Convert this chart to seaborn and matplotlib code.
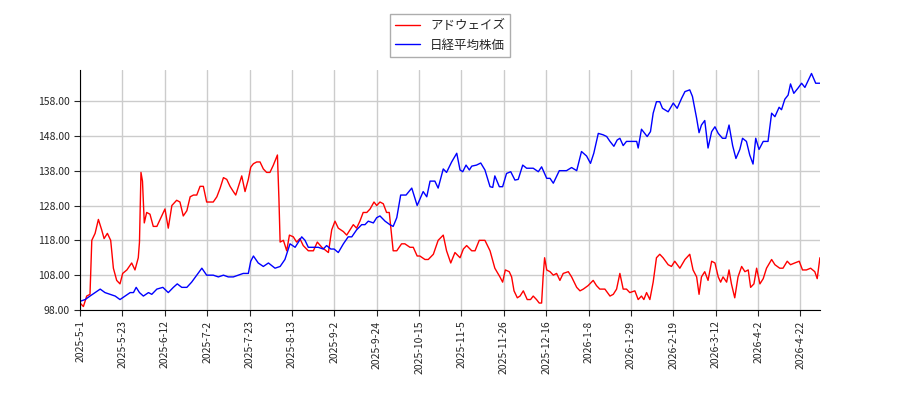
import matplotlib
matplotlib.use("Agg")
import matplotlib.pyplot as plt
import seaborn as sns
import numpy as np

# trading-day offsets and closing values
red_day = [0.0, 1.1, 2.2, 3.3, 3.9, 5.0, 6.1, 7.2, 8.0, 9.1, 10.2, 11.1, 12.2, 13.3, 14.2, 15.6, 17.2, 18.3, 19.4, 19.8,
           20.3, 20.8, 21.4, 22.2, 23.3, 24.4, 25.6, 27.2, 28.3, 29.4, 30.6, 32.2, 33.3, 34.4, 35.6, 36.7, 37.8, 38.9,
           40.0, 41.1, 42.2, 43.3, 44.4, 45.6, 46.7, 47.8, 48.9, 50.0, 51.1, 51.9, 52.8, 53.9, 55.0, 56.1, 56.9, 57.8,
           58.9, 60.0, 61.1, 62.2, 63.3, 64.4, 65.8, 66.3, 66.7, 67.8, 68.9, 69.8, 71.1, 72.2, 73.3, 74.4, 76.1, 77.8,
           79.1, 80.6, 82.8, 83.9, 85.0, 86.1, 87.8, 88.9, 90.0, 91.1, 92.2, 93.3, 94.4, 95.6, 96.7, 98.0, 98.9, 100.0,
           101.1, 102.2, 103.1, 104.4, 105.6, 107.2, 108.3, 110.0, 111.1, 112.4, 113.3, 115.0, 116.1, 117.8, 119.4,
           121.1, 122.2, 123.6, 125.0, 126.7, 127.8, 128.9, 130.6, 131.7, 133.1, 135.0, 136.7, 138.3, 140.0, 140.9,
           141.8, 143.1, 143.9, 144.7, 145.8, 146.7, 147.8, 149.1, 150.2, 151.1, 152.2, 153.1, 153.9, 154.4, 154.9,
           155.6, 156.7, 157.8, 158.9, 160.0, 161.1, 162.8, 163.9, 165.6, 166.7, 167.8, 169.4, 171.1, 172.2, 173.3,
           175.0, 176.7, 177.8, 178.9, 180.0, 181.1, 182.2, 183.3, 185.0, 186.1, 187.2, 188.0, 188.9, 190.0, 191.1,
           192.2, 193.3, 194.4, 196.1, 197.2, 198.3, 200.0, 201.7, 203.3, 204.4, 205.6, 206.4, 207.2, 208.3, 209.4,
           210.6, 211.7, 212.8, 213.6, 214.4, 215.6, 216.4, 217.2, 218.3, 219.4, 220.6, 221.7, 222.8, 223.6, 224.7,
           225.6, 226.7, 227.8, 228.9, 230.6, 231.7, 233.3, 234.4, 235.8, 236.9, 238.3, 239.8, 240.9, 242.2, 243.6,
           245.0, 245.8, 246.7]
red_val = [100, 99, 102, 102.5, 118, 120, 124, 121, 118.5, 120, 118, 110, 106.5, 105.5, 108.5, 109.5, 111.5, 109.5, 113, 117.5,
           137.5, 135, 123, 126, 125.5, 122, 122, 125, 127, 121.5, 128, 129.5, 129, 125, 126.5, 130.5, 131, 131,
           133.5, 133.5, 129, 129, 129, 130.5, 133, 136, 135.5, 133.5, 132, 131, 133.5, 136.5, 132, 135.5, 139, 140,
           140.5, 140.5, 138.5, 137.5, 137.5, 139.5, 142.5, 130, 117.5, 118, 115, 119.5, 119, 117.5, 118.5, 116.5, 115, 115,
           117.5, 116, 114.5, 121, 123.5, 121.5, 120.5, 119.5, 121, 122.5, 121.5, 123.5, 126, 126, 127, 129, 128, 129,
           128.5, 126, 126, 115, 115, 117, 117, 116, 116, 113.5, 113.5, 112.5, 112.5, 114, 118,
           119.5, 115, 111.5, 114.5, 113, 115.5, 116.5, 115, 115, 118, 118, 115, 110, 107.5, 106,
           109.5, 109, 107.5, 103.5, 101.5, 102, 103.5, 101, 101, 102, 101, 100, 100, 107.5, 113,
           109.5, 109, 108, 108.5, 106.5, 108.5, 109, 107.5, 104.5, 103.5, 104, 105, 106.5, 105, 104,
           104, 102, 102.5, 104, 108.5, 104, 104, 103, 103.5, 101, 102, 101, 103, 101, 106,
           113, 114, 113, 111, 110.5, 112, 110, 112.5, 114, 109.5, 107.5, 102.5, 107.5, 109, 106.5,
           112, 111.5, 107.5, 106, 107.5, 106, 109.5, 105.5, 101.5, 107.5, 110.5, 109, 109.5, 104.5, 105.5,
           110, 105.5, 107, 110, 112.5, 111, 110, 110, 112, 111, 111.5, 112, 109.5, 109.5, 110,
           109, 107, 113]

blue_day = [0.0, 1.7, 3.3, 5.0, 6.7, 8.3, 10.0, 11.7, 13.3, 15.0, 16.7, 17.8, 18.7, 19.8, 21.1, 22.8, 23.9, 25.6, 27.6,
            29.4, 31.1, 32.4, 33.9, 35.6, 37.2, 38.9, 40.6, 42.2, 44.4, 46.1, 47.8, 49.4, 51.1, 52.8, 54.4, 56.1, 56.9,
            57.8, 59.4, 61.1, 62.8, 65.0, 66.7, 68.3, 70.0, 71.7, 72.8, 73.9, 75.0, 76.1, 77.8, 79.4, 81.1, 82.2, 83.6,
            84.7, 86.1, 87.8, 89.4, 90.6, 92.2, 93.9, 95.0, 96.1, 97.8, 98.9, 100.0, 101.7, 103.3, 104.4, 105.6, 106.9,
            108.7, 110.6, 112.4, 114.4, 115.6, 116.7, 118.3, 119.4, 121.1, 122.2, 123.9, 125.6, 126.7, 127.6, 128.7,
            129.8, 130.6, 132.2, 133.6, 135.0, 136.7, 137.6, 138.3, 139.8, 140.9, 142.2, 143.6, 145.0, 146.1, 147.6,
            148.9, 151.1, 152.8, 153.9, 155.6, 156.7, 157.8, 159.8, 162.2, 163.9, 165.6, 167.2, 168.9, 170.2, 171.3,
            172.8, 174.4, 175.6, 176.7, 178.0, 179.1, 180.0, 181.1, 182.2, 185.6, 186.1, 187.2, 188.3, 189.1, 190.2,
            191.1, 192.2, 193.3, 194.2, 196.1, 197.8, 199.1, 200.6, 201.7, 203.3, 204.2, 205.6, 206.4, 207.2, 208.3,
            209.4, 210.6, 211.7, 212.8, 214.2, 215.3, 216.4, 217.6, 218.7, 220.0, 220.9, 222.2, 223.3, 224.4, 225.3,
            226.4, 227.8, 229.4, 230.6, 231.7, 233.1, 233.9, 235.0, 236.1, 236.9, 238.0, 239.4, 240.6, 241.7, 243.9,
            245.3, 246.7]
blue_val = [100.5, 101, 102, 103, 104, 103, 102.5, 102, 101, 102, 103, 103, 104.5, 103, 102, 103, 102.5, 104, 104.5,
            103, 104.5, 105.5, 104.5, 104.5, 106, 108, 110, 108, 108, 107.5, 108, 107.5, 107.5, 108, 108.5, 108.5, 112,
            113.5, 111.5, 110.5, 111.5, 110, 110.5, 112.5, 117, 116, 117.5, 119, 118, 116, 116, 116, 115.5, 116.5, 115.5,
            115.5, 114.5, 117, 119, 119, 121, 122.5, 122.5, 123.5, 123, 124.5, 125, 123.5, 122.5, 122, 124.5, 131,
            131, 133, 128, 132, 130.5, 135, 135, 133, 138.5, 137.5, 140.5, 143, 138.2, 137.7, 139.6,
            138.2, 139.3, 139.6, 140.2, 138.2, 133.4, 133.2, 136.5, 133.4, 133.4, 137.2, 137.7, 135.3, 135.5, 139.6,
            138.7, 138.7, 137.7, 139.1, 135.8, 135.8, 134.4, 138.0, 138.0, 138.9, 138.0, 143.5, 142.2, 140.1, 143.0,
            148.7, 148.3, 147.8, 146.4, 145.0, 146.8, 147.3, 145.2, 146.4, 146.4, 144.5, 149.9, 148.7, 147.8, 149.2,
            154.5, 157.8, 157.8, 155.9, 154.9, 157.4, 155.9, 158.8, 160.7, 161.2, 159.3, 153.0, 148.9, 151.1, 152.4,
            144.5, 149.2, 150.6, 148.7, 147.3, 147.3, 151.1, 145.2, 141.5, 144.1, 147.3, 146.4, 142.5, 139.9, 147.3,
            144.1, 146.4, 146.4, 154.5, 153.5, 156.2, 155.5, 158.5, 159.7, 162.9, 160.2, 161.7, 163.1, 161.9, 165.9,
            163.1, 163.1]

tick_labels = ["2025-5-1", "2025-5-23", "2025-6-12", "2025-7-2", "2025-7-23", "2025-8-13", "2025-9-2",
               "2025-9-24", "2025-10-15", "2025-11-5", "2025-11-26", "2025-12-16", "2026-1-8", "2026-1-29",
               "2026-2-19", "2026-3-12", "2026-4-2", "2026-4-22"]
tick_step = 14.13

sns.set_style("white")
plt.rcParams['font.family'] = ['Noto Sans CJK JP', 'DejaVu Sans']

fig = plt.figure(figsize=(9, 4), dpi=100)
ax = fig.add_axes([0.089, 0.225, 0.822, 0.6])
sns.lineplot(x=red_day, y=red_val, ax=ax, color="red", linewidth=1, label="アドウェイズ")
sns.lineplot(x=blue_day, y=blue_val, ax=ax, color="blue", linewidth=1, label="日経平均株価")

ax.set_xlim(0, 246.7)
ax.set_ylim(98, 166.9)
ax.set_xticks(np.arange(len(tick_labels)) * tick_step)
ax.set_xticklabels(tick_labels, rotation=90, fontsize=7.5)
ax.set_yticks(np.arange(98, 160, 10))
ax.set_yticklabels([f"{v:.2f}" for v in np.arange(98, 160, 10)], fontsize=7.5)
ax.grid(True, color="#cccccc", linewidth=1)
ax.tick_params(axis="both", length=4, direction="out", bottom=True, left=True)
for s in ["left", "bottom"]:
    ax.spines[s].set_color("black")
ax.spines["top"].set_visible(False)
ax.spines["right"].set_visible(False)
ax.set_xlabel("")
ax.set_ylabel("")
ax.legend(loc="lower center", bbox_to_anchor=(0.5, 1.03), frameon=True, fontsize=9, fancybox=False,
          edgecolor="#999999")

plt.savefig("out.png")
